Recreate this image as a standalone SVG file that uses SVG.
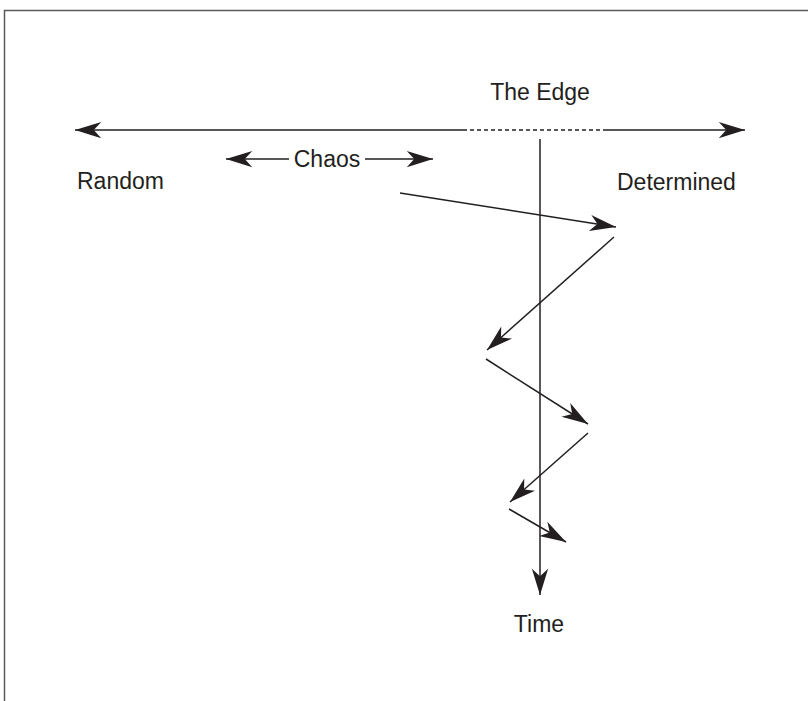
<svg xmlns="http://www.w3.org/2000/svg" width="808" height="701" viewBox="0 0 808 701">
<style>
.ln{stroke:#231f20;stroke-width:1.5;fill:none}
.dash{stroke-dasharray:4 3}
.t{font-family:"Liberation Sans",Arial,sans-serif;font-size:23px;fill:#231f20}
</style>
<defs>
<marker id="ah" markerUnits="userSpaceOnUse" markerWidth="30" markerHeight="30" viewBox="-22 -8 24 16" refX="0" refY="0" orient="auto-start-reverse">
<path d="M0,0 L-21,-6.5 L-15,0 L-21,6.5 Z" fill="#231f20"/>
</marker>
</defs>
<rect width="808" height="701" fill="#fff"/>
<path d="M4.5,701 V10.5 H808" stroke="#5a5a5a" stroke-width="1.5" fill="none"/>
<g id="connectors">
<line class="ln" x1="75" y1="130" x2="463" y2="130" marker-start="url(#ah)"/>
<line class="ln dash" x1="463" y1="130" x2="603" y2="130"/>
<line class="ln" x1="603" y1="130" x2="745" y2="130" marker-end="url(#ah)"/>
<line class="ln" x1="289" y1="159" x2="226" y2="159" marker-end="url(#ah)"/>
<line class="ln" x1="365" y1="159" x2="433" y2="159" marker-end="url(#ah)"/>
<line class="ln" x1="540" y1="139" x2="540" y2="595" marker-end="url(#ah)"/>
<line class="ln" x1="400" y1="193" x2="616" y2="227" marker-end="url(#ah)"/>
<line class="ln" x1="614" y1="237" x2="487" y2="350" marker-end="url(#ah)"/>
<line class="ln" x1="486" y1="359" x2="588" y2="424" marker-end="url(#ah)"/>
<line class="ln" x1="588" y1="433" x2="510" y2="502" marker-end="url(#ah)"/>
<line class="ln" x1="509" y1="509" x2="566" y2="542" marker-end="url(#ah)"/>
</g>
<g id="edge"><text class="t" x="540" y="100" text-anchor="middle">The Edge</text></g>
<g id="chaos"><text class="t" x="327" y="167" text-anchor="middle">Chaos</text></g>
<g id="random"><text class="t" x="77" y="189">Random</text></g>
<g id="determined"><text class="t" x="617" y="190">Determined</text></g>
<g id="time"><text class="t" x="539" y="632" text-anchor="middle">Time</text></g>
</svg>
